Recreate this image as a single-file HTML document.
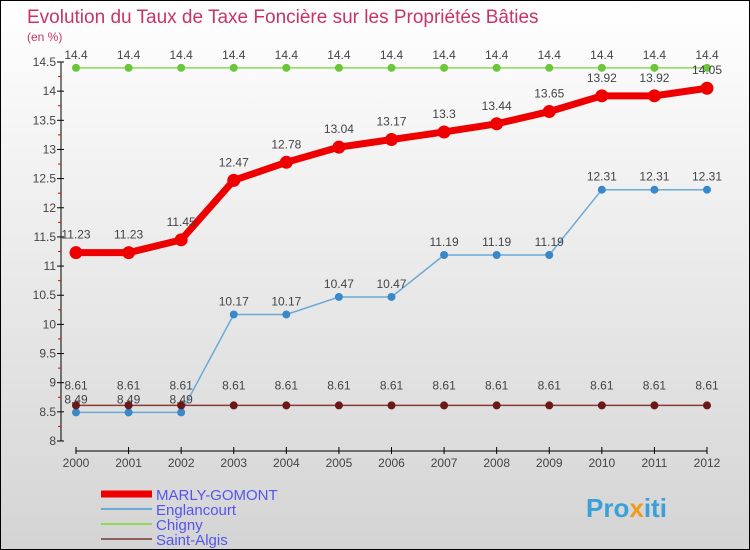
<!DOCTYPE html>
<html><head><meta charset="utf-8"><style>
body{margin:0}
#c{width:750px;height:550px;position:relative;box-sizing:border-box;border:1px solid #000;background:linear-gradient(#ffffff,#d4d4d4);font-family:"Liberation Sans",sans-serif;overflow:hidden}
svg text{font-family:"Liberation Sans",sans-serif}
</style></head><body>
<div id="c">
<svg id="s" width="750" height="550">
<text x="26" y="22" font-size="19" fill="#c8336a">Evolution du Taux de Taxe Foncière sur les Propriétés Bâties</text>
<text x="26" y="40" font-size="12" fill="#c8336a">(en %)</text>
<text x="585" y="516" font-size="26" font-weight="bold" fill="#3aa0d8">Pro<tspan fill="#f29a1d">x</tspan>iti</text>
</svg>
</div>
<script>
const years=[2000,2001,2002,2003,2004,2005,2006,2007,2008,2009,2010,2011,2012];
const marly=[11.23,11.23,11.45,12.47,12.78,13.04,13.17,13.3,13.44,13.65,13.92,13.92,14.05];
const englan=[8.49,8.49,8.49,10.17,10.17,10.47,10.47,11.19,11.19,11.19,12.31,12.31,12.31];
const chigny=[14.4,14.4,14.4,14.4,14.4,14.4,14.4,14.4,14.4,14.4,14.4,14.4,14.4];
const algis=[8.61,8.61,8.61,8.61,8.61,8.61,8.61,8.61,8.61,8.61,8.61,8.61,8.61];
const yTicks=[8,8.5,9,9.5,10,10.5,11,11.5,12,12.5,13,13.5,14,14.5];
const names=["MARLY-GOMONT","Englancourt","Chigny","Saint-Algis"];
const NS="http://www.w3.org/2000/svg";
const s=document.getElementById('s');
const X=i=>75+i*(706-75)/(years.length-1);
const Y=v=>440-(v-8)*(379/6.5);
function mk(t,a,p){const e=document.createElementNS(NS,t);for(const k in a)e.setAttribute(k,a[k]);(p||s).appendChild(e);return e;}
// axes
let ax=mk('line',{x1:60,y1:Y(14.5),x2:60,y2:440,stroke:'#000','stroke-width':1});


yTicks.forEach(v=>{
 mk('line',{x1:56,x2:63,y1:Y(v),y2:Y(v),stroke:'#000'});
 if(v<14.5)mk('line',{x1:57,x2:60,y1:Y(v+0.25),y2:Y(v+0.25),stroke:'#e00'});
 const t=mk('text',{x:55,y:Y(v)+4,'font-size':12,'text-anchor':'end',fill:'#444'});t.textContent=v;
 
 
});
let xa=mk('line',{x1:75,y1:450,x2:706,y2:450,stroke:'#000'});


years.forEach((yr,i)=>{
 mk('line',{x1:X(i),x2:X(i),y1:446,y2:453,stroke:'#000'});
 const t=mk('text',{x:X(i),y:466,'font-size':12,'text-anchor':'middle',fill:'#444'});t.textContent=yr;
 
 
});
function series(d,col,dot,w,r,name,labOff){
 const g=mk('g',{});
 
 
 mk('polyline',{points:d.map((v,i)=>X(i)+','+Y(v)).join(' '),fill:'none',stroke:col,'stroke-width':w},g);
 d.forEach((v,i)=>{
  const c=mk('circle',{cx:X(i),cy:Y(v),r:r,fill:dot},g);
  
  
  const t=mk('text',{x:X(i),y:Y(v)-labOff,'font-size':12,'text-anchor':'middle',fill:'#444'},g);t.textContent=v;
 });
}
series(englan,'#6aaad6','#3a88c8',1.5,4,'series-englancourt',9);
series(chigny,'#8fd85a','#6cc63a',1.5,4,'series-chigny',9);
series(algis,'#8b3a3a','#6a1818',1.5,4,'series-saint-algis',16);
series(marly,'#ee0000','#ee0000',7,6.5,'series-marly-gomont',14);
const lc=[['#ee0000',7],['#6aaad6',2],['#8fd85a',2],['#8b6060',2]];
names.forEach((n,i)=>{
 const y=493+i*15;
 const l=mk('line',{x1:100,x2:151,y1:y,y2:y,stroke:lc[i][0],'stroke-width':lc[i][1]});
 
 
 const t=mk('text',{x:155,y:y+6,'font-size':15,fill:'#5555ee'});t.textContent=n;
 
 
});
</script>
</body></html>
